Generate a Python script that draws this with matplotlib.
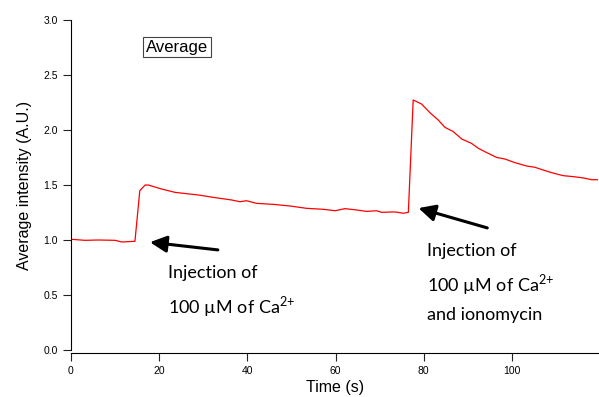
import matplotlib.pyplot as plt

# trace (time in s, intensity in A.U.)
time = [0.2, 3.2, 6.2, 10.0, 11.5, 14.5, 15.6, 16.8, 17.5, 20.5, 23.6, 28.9, 32.7,
        36.4, 38.3, 39.8, 42.1, 45.9, 49.7, 53.4, 57.2, 59.9, 62.1, 64.8, 67.0,
        69.3, 70.4, 73.5, 75.4, 76.5, 77.6, 79.5, 81.4, 83.3, 84.8, 86.7, 88.6,
        90.8, 92.4, 94.3, 96.5, 98.4, 100.7, 103.3, 105.2, 107.1, 109.0, 111.6,
        113.9, 116.2, 118.1, 119.6]
intensity = [1.006, 0.997, 1.000, 0.997, 0.982, 0.988, 1.448, 1.500, 1.500, 1.464,
             1.433, 1.409, 1.385, 1.364, 1.348, 1.357, 1.333, 1.324, 1.309, 1.288,
             1.279, 1.266, 1.285, 1.273, 1.260, 1.266, 1.252, 1.255, 1.243, 1.252,
             2.273, 2.236, 2.157, 2.090, 2.024, 1.985, 1.918, 1.879, 1.833, 1.794,
             1.751, 1.736, 1.703, 1.673, 1.661, 1.636, 1.612, 1.585, 1.576, 1.564,
             1.548, 1.548]

label1 = "Injection of\n100 \u00b5M of Ca$^{2\!+}$"
label2 = "Injection of\n100 \u00b5M of Ca$^{2\!+}$\nand ionomycin"

plt.rcParams['font.family'] = ['Liberation Sans', 'DejaVu Sans']
plt.rcParams['mathtext.fontset'] = 'custom'
plt.rcParams['mathtext.rm'] = 'Lato'

fig = plt.figure(figsize=(5.99, 3.97), dpi=100)
ax = fig.add_axes([71/599, 1-350/397, 1-71/599-0.001, 330/397])

ax.plot(time, intensity, color='red', lw=0.9)

ax.set_xlim(0, 119.6)
ax.set_ylim(0, 3.0)
ax.set_xticks([0, 20, 40, 60, 80, 100])
ax.set_yticks([0.0, 0.5, 1.0, 1.5, 2.0, 2.5, 3.0])
ax.set_yticklabels(['0.0', '0.5', '1.0', '1.5', '2.0', '2.5', '3.0'])
ax.tick_params(labelsize=7.5, length=6, width=0.8, color='#222222')
ax.spines['top'].set_visible(False)
ax.spines['right'].set_visible(False)
ax.spines['bottom'].set_position(('outward', 2))
ax.set_xlabel('Time (s)', fontsize=11.5, labelpad=3)
ax.set_ylabel('Average intensity (A.U.)', fontsize=11.5, labelpad=8)

ax.text(17.0, 2.75, 'Average', fontsize=12, va='center', ha='left',
        bbox=dict(boxstyle='square,pad=0.15', fc='white', ec='#444444', lw=0.8))

ax.annotate('', xy=(17.9, 0.98), xytext=(33.3, 0.91),
            arrowprops=dict(arrowstyle='-|>,head_length=1.0,head_width=0.5',
                            color='black', lw=2.2, shrinkA=0, shrinkB=0))
ax.annotate('', xy=(78.8, 1.29), xytext=(94.4, 1.11),
            arrowprops=dict(arrowstyle='-|>,head_length=1.0,head_width=0.5',
                            color='black', lw=2.2, shrinkA=0, shrinkB=0))

ax.text(22.0, 0.53, label1, fontsize=13, family=['Lato', 'DejaVu Sans'],
        va='center', ha='left', linespacing=1.7)
ax.text(80.8, 0.61, label2, fontsize=13, family=['Lato', 'DejaVu Sans'],
        va='center', ha='left', linespacing=1.7)

fig.savefig('out.png', dpi=100)
